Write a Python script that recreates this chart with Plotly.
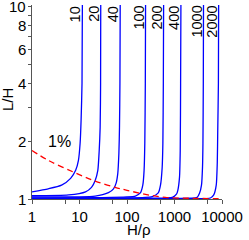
import numpy as np
import plotly.graph_objects as go

# ---- data ----
curve_labels = ["10", "20", "40", "100", "200", "400", "1000", "2000"]

c10_x = [1, 2.2, 4.2, 6.5, 8.3, 9.5, 10.3, 10.8, 11.3, 11.5]
c10_y = [1.09, 1.13, 1.18, 1.28, 1.41, 1.59, 1.95, 2.57, 4.0, 10.5]

c20_x = [1, 5.9, 13.4, 17.9, 21.4, 24.3, 26.0, 27.2, 27.8, 28.0]
c20_y = [1.04, 1.05, 1.09, 1.15, 1.25, 1.41, 1.79, 2.36, 4.0, 10.5]

c40_x = [1, 21.4, 40.7, 52, 59, 64, 67.5, 69.5, 71, 72]
c40_y = [1.025, 1.036, 1.08, 1.13, 1.21, 1.36, 1.73, 2.36, 4.0, 10.5]

c100_x = [1, 30, 100, 150, 191, 215, 229, 237, 243, 246]
c100_y = [1.012, 1.017, 1.025, 1.036, 1.075, 1.18, 1.41, 1.95, 4.0, 10.5]

c200_x = [1, 100, 339, 455, 507, 550, 569, 582, 590]
c200_y = [1.008, 1.012, 1.03, 1.075, 1.18, 1.46, 1.95, 4.0, 10.5]

c400_x = [1, 300, 900, 1100, 1175, 1275, 1320, 1345, 1365]
c400_y = [1.005, 1.01, 1.02, 1.06, 1.11, 1.3, 1.79, 4.0, 10.5]

c1000_x = [1, 1000, 3000, 3360, 3700, 3890, 3970, 4040, 4080]
c1000_y = [1.003, 1.007, 1.02, 1.07, 1.18, 1.47, 1.95, 4.0, 10.5]

c2000_x = [1, 2000, 5700, 6700, 7560, 7950, 8140, 8400, 8500]
c2000_y = [1.002, 1.005, 1.012, 1.05, 1.18, 1.54, 2.28, 4.0, 10.5]

pct_x = [1, 2.2, 7.5, 21.4, 56, 100, 245, 640, 2350, 10000]
pct_y = [1.79, 1.59, 1.38, 1.24, 1.15, 1.11, 1.057, 1.02, 1.008, 1.004]
pct_label = "1%"

x_ticks = [1, 10, 100, 1000, 10000]
x_minor = [5, 50, 500, 5000]
y_ticks = [1, 2, 4, 6, 8, 10]
y_minor = [3, 5, 7, 9]

curves = [(c10_x, c10_y), (c20_x, c20_y), (c40_x, c40_y), (c100_x, c100_y),
          (c200_x, c200_y), (c400_x, c400_y), (c1000_x, c1000_y), (c2000_x, c2000_y)]

FONT = "Arial"
AX = "#555555"

fig = go.Figure()
for (cx, cy) in curves:
    fig.add_trace(go.Scatter(x=cx, y=cy, mode="lines",
                             line=dict(color="#0000ff", width=1.3, shape="spline", smoothing=0.6),
                             showlegend=False, hoverinfo="skip"))
fig.add_trace(go.Scatter(x=pct_x, y=pct_y, mode="lines",
                         line=dict(color="#ff0000", width=1.3, dash="6px,4px", shape="spline"),
                         showlegend=False, hoverinfo="skip"))

annotations = []
for lab, (cx, cy) in zip(curve_labels, curves):
    annotations.append(dict(x=float(np.log10(cx[-1])), xref="x", y=1, yref="paper",
                            text=lab, textangle=-90, showarrow=False,
                            xanchor="center", yanchor="top", xshift=-7, yshift=1,
                            font=dict(family=FONT, size=14.5, color="black")))
# y tick labels as text next to the axis
for v in y_ticks:
    annotations.append(dict(x=0, xref="paper", y=float(np.log10(v)), yref="y", text=str(v),
                            showarrow=False, xanchor="right", yanchor="middle", xshift=-5,
                            bordercolor="white", borderwidth=1, borderpad=0,
                            font=dict(family=FONT, size=15, color="black")))
annotations.append(dict(x=float(np.log10(3.8)), xref="x", y=float(np.log10(1.5)), yref="y",
                        text=pct_label, showarrow=False, xanchor="center", yanchor="middle",
                        yshift=24, font=dict(family=FONT, size=16, color="black")))
annotations.append(dict(x=0.5, xref="paper", xshift=12, y=0, yref="paper", yanchor="middle",
                        yshift=-30, text="H/ρ", showarrow=False,
                        font=dict(family=FONT, size=15, color="black")))
annotations.append(dict(x=0, xref="paper", xshift=-25, xanchor="center", y=0.5, yref="paper",
                        yshift=2, text="L/H", textangle=-90, showarrow=False,
                        font=dict(family=FONT, size=15, color="black")))

fig.update_layout(
    width=249, height=240,
    margin=dict(l=32, r=27, t=5, b=41),
    paper_bgcolor="white", plot_bgcolor="white",
    annotations=annotations,
    xaxis=dict(type="log", range=[0, 4], tickvals=x_ticks, ticktext=[str(v) for v in x_ticks],
               ticks="outside", ticklen=4, tickcolor=AX, tickwidth=1,
               showline=True, linecolor=AX, linewidth=1, showgrid=False, zeroline=False,
               tickfont=dict(family=FONT, size=15, color="black"),
               minor=dict(tickvals=x_minor, ticks="outside", ticklen=4, tickcolor=AX, showgrid=False)),
    yaxis=dict(type="log", range=[0, 1.01], tickvals=y_ticks, showticklabels=False,
               ticks="outside", ticklen=3, tickcolor=AX, tickwidth=1,
               showline=True, linecolor=AX, linewidth=1, showgrid=False, zeroline=False,
               minor=dict(tickvals=y_minor, ticks="outside", ticklen=3, tickcolor=AX, showgrid=False)),
)

fig.write_html("out.html", config={"displayModeBar": False},
               post_script="document.body.style.margin='0px';document.body.style.padding='0px';")
